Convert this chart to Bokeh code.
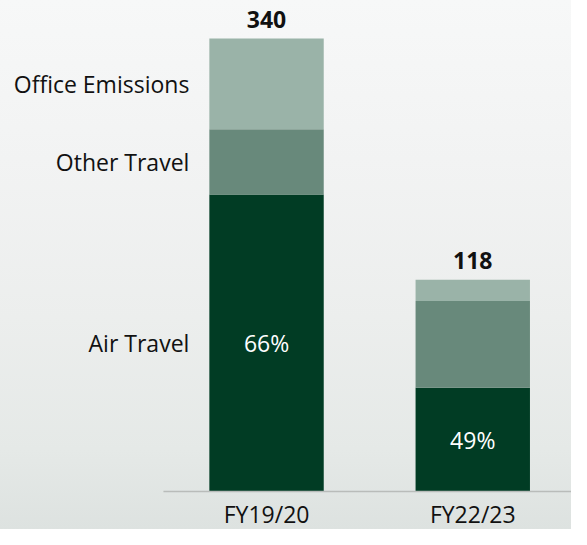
from bokeh.plotting import figure
from bokeh.models import ColumnDataSource, Range1d
from bokeh.core.properties import value
from bokeh.embed import file_html
from bokeh.resources import INLINE

# ---- data (heights, in the drawing's own units) ----
years = ["FY19/20", "FY22/23"]
air_travel = [223, 78]
other_travel = [49, 65]
office_emissions = [68, 16]
total_labels = ["340", "118"]
air_share_labels = ["66%", "49%"]
segment_names = ["Air Travel", "Other Travel", "Office Emissions"]

# ---- style ----
FONT = value("Open Sans")
FS = "23px"
COLORS = ["#013c24", "#68897b", "#9ab3a8"]
BAR_W = 0.5547

xs = list(range(len(years)))
tops = [a + o + f for a, o, f in zip(air_travel, other_travel, office_emissions)]

src = ColumnDataSource(dict(
    x=xs, year=years,
    air=air_travel, other=other_travel, office=office_emissions,
    top=tops, total=total_labels, pct=air_share_labels,
    air_mid=[a / 2 for a in air_travel],
    zero=[0] * len(xs),
))

p = figure(width=571, height=529, output_backend="svg", toolbar_location=None,
           x_range=Range1d(-1.2901, 1.4788), y_range=Range1d(-28.45, 368.6),
           min_border=0, background_fill_color=None, border_fill_color=None,
           outline_line_color=None)
p.styles = {"background": "linear-gradient(to bottom, #f7f8f8 0%, #f2f3f3 30%, "
                          "#eceeed 60%, #e5e9e7 85%, #dde2e0 100%)"}
p.axis.visible = False
p.grid.visible = False

p.vbar_stack(["air", "other", "office"], x="x", width=BAR_W, color=COLORS,
             line_color=None, source=src)

# baseline
p.segment(x0=[xs[0] - 0.5], y0=[0], x1=[xs[-1] + 0.5], y1=[0],
          line_color="#b9bcba", line_width=1.5)

# totals above bars
p.text(x="x", y="top", text="total", source=src, text_font=FONT,
       text_font_size=FS, text_font_style="bold", text_color="#111111",
       text_align="center", text_baseline="middle", y_offset=-19)

# air share inside dark segment
p.text(x="x", y="air_mid", text="pct", source=src, text_font=FONT,
       text_font_size=FS, text_color="#ffffff",
       text_align="center", text_baseline="middle")

# year labels under baseline
p.text(x="x", y="zero", text="year", source=src, text_font=FONT,
       text_font_size=FS, text_color="#111111",
       text_align="center", text_baseline="middle", y_offset=22)

# segment names beside first bar
a0, o0, f0 = air_travel[0], other_travel[0], office_emissions[0]
seg_mids = [a0 / 2, a0 + o0 / 2, a0 + o0 + f0 / 2]
p.text(x=[xs[0] - BAR_W / 2] * 3, y=seg_mids, text=segment_names,
       text_font=FONT, text_font_size=FS, text_color="#111111",
       text_align="right", text_baseline="middle", x_offset=-20)

open("out.html", "w").write(file_html(p, INLINE))
